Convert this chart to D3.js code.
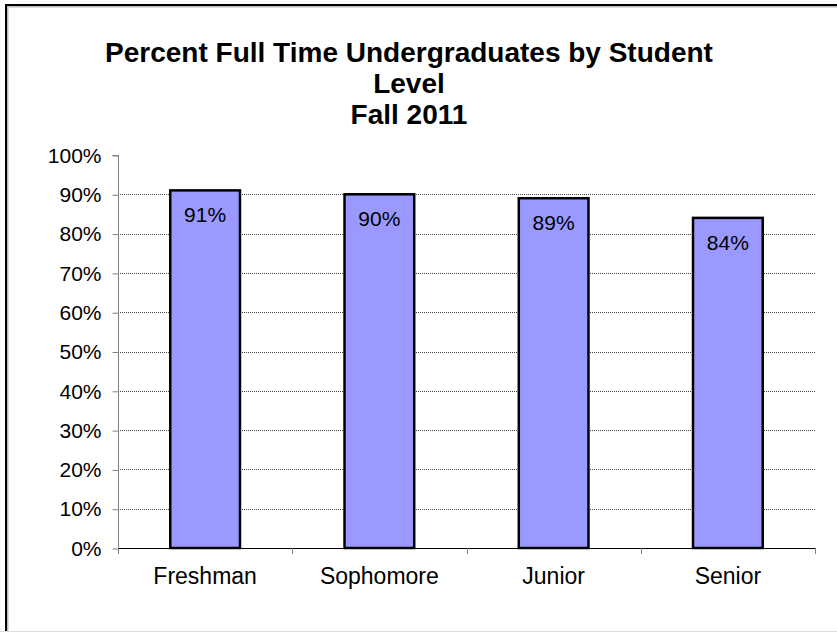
<!DOCTYPE html>
<html>
<head>
<meta charset="utf-8">
<script src="https://cdn.jsdelivr.net/npm/d3@7"></script>
<style>
  body { margin: 0; background: #fff; }
  svg { display: block; font-family: "Liberation Sans", Arial, sans-serif; }
</style>
</head>
<body>
<svg id="chart" width="837" height="632"></svg>
<script>
// data
var levels = ["Freshman", "Sophomore", "Junior", "Senior"];
var pctFullTime = [91, 90, 89, 84];
var yTicks = [0, 10, 20, 30, 40, 50, 60, 70, 80, 90, 100];
var titleLines = ["Percent Full Time Undergraduates by Student", "Level", "Fall 2011"];

var svg = d3.select("#chart"),
    width = +svg.attr("width"),
    height = +svg.attr("height");

var plot = {left: 118, right: 815, top: 155, bottom: 548};

// outer frame
svg.append("rect")
    .attr("x", 7.5).attr("y", 6.5)
    .attr("width", 840).attr("height", 640)
    .attr("fill", "none").attr("stroke", "#bbb").attr("stroke-width", 2);
svg.append("rect")
    .attr("x", 6).attr("y", 5)
    .attr("width", 840).attr("height", 640)
    .attr("fill", "none").attr("stroke", "#000").attr("stroke-width", 2);
svg.append("line")
    .attr("x1", 0).attr("x2", width)
    .attr("y1", 631.5).attr("y2", 631.5)
    .attr("stroke", "#ddd");

// title
svg.append("text")
    .attr("text-anchor", "middle")
    .attr("font-weight", "bold")
    .attr("font-size", 28)
    .selectAll("tspan")
    .data(titleLines)
    .enter().append("tspan")
      .attr("x", 409)
      .attr("y", function(d, i) { return 62 + i * 31; })
      .text(function(d) { return d; });

var x = d3.scaleBand()
    .domain(levels)
    .range([plot.left, plot.right])
    .paddingInner(0.6)
    .paddingOuter(0.3);

var y = d3.scaleLinear()
    .domain([0, 100])
    .range([plot.bottom, plot.top]);

// gridlines
svg.append("g")
    .selectAll("line")
    .data(yTicks.filter(function(d) { return d > 0 && d < 100; }))
    .enter().append("line")
      .attr("x1", plot.left).attr("x2", plot.right)
      .attr("y1", function(d) { return Math.round(y(d)) + 0.5; })
      .attr("y2", function(d) { return Math.round(y(d)) + 0.5; })
      .attr("stroke", "#444")
      .attr("stroke-dasharray", "1,1");

// y axis
var yAxis = svg.append("g")
    .attr("transform", "translate(" + (plot.left + 0.5) + ",0.5)")
    .call(d3.axisLeft(y).tickValues(yTicks).tickSize(6).tickPadding(11)
      .tickFormat(function(d) { return d + "%"; }));
yAxis.select(".domain").attr("stroke", "#808080").attr("d", "M-6," + Math.round(y(100)) + "H0V" + Math.round(y(0)));
yAxis.selectAll(".tick line").attr("stroke", "#808080");
yAxis.selectAll(".tick text")
    .attr("font-size", 21)
    .attr("font-family", "Liberation Sans, Arial, sans-serif")
    .attr("fill", "#000");

// bars
svg.append("g")
    .selectAll("rect")
    .data(pctFullTime)
    .enter().append("rect")
      .attr("x", function(d, i) { return x(levels[i]); })
      .attr("y", function(d) { return y(d); })
      .attr("width", x.bandwidth())
      .attr("height", function(d) { return y(0) - y(d); })
      .attr("fill", "#9999FF")
      .attr("stroke", "#000")
      .attr("stroke-width", 2.5);

// value labels
svg.append("g")
    .selectAll("text")
    .data(pctFullTime)
    .enter().append("text")
      .attr("x", function(d, i) { return x(levels[i]) + x.bandwidth() / 2; })
      .attr("y", function(d) { return y(d) + 32; })
      .attr("text-anchor", "middle")
      .attr("font-size", 21)
      .text(function(d) { return d + "%"; });

// x axis
var boundaries = levels.map(function(d) { return x(d) - x.step() * 0.3; }).concat([plot.right]);
var xg = svg.append("g");
xg.append("line")
    .attr("x1", plot.left).attr("x2", plot.right)
    .attr("y1", plot.bottom + 0.5).attr("y2", plot.bottom + 0.5)
    .attr("stroke", "#000");
xg.selectAll(".tk")
    .data(boundaries)
    .enter().append("line")
      .attr("class", "tk")
      .attr("x1", function(d) { return Math.round(d) + 0.5; })
      .attr("x2", function(d) { return Math.round(d) + 0.5; })
      .attr("y1", plot.bottom).attr("y2", plot.bottom + 6)
      .attr("stroke", "#808080");
xg.selectAll(".lbl")
    .data(levels)
    .enter().append("text")
      .attr("class", "lbl")
      .attr("x", function(d) { return x(d) + x.bandwidth() / 2; })
      .attr("y", 584)
      .attr("text-anchor", "middle")
      .attr("font-size", 23)
      .text(function(d) { return d; });
</script>
</body>
</html>
